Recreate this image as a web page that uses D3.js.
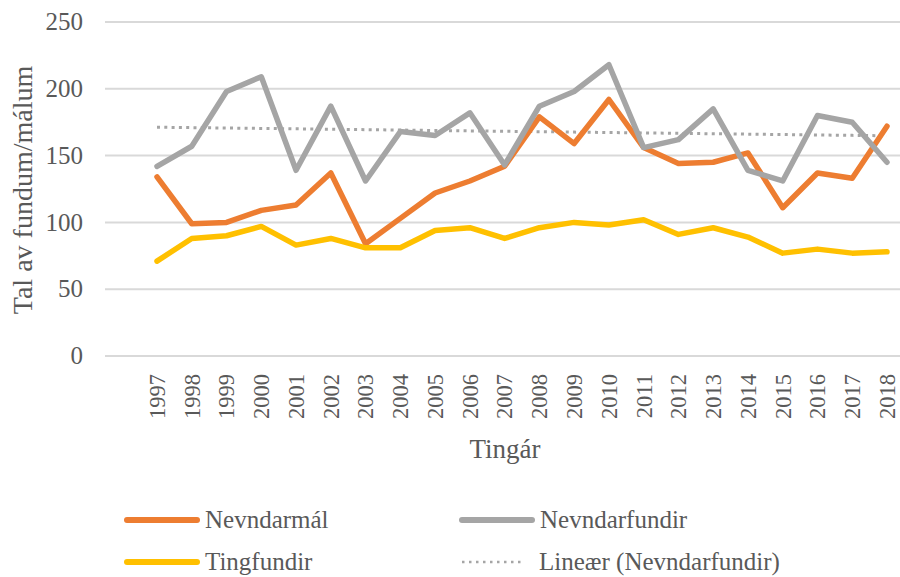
<!DOCTYPE html>
<html>
<head>
<meta charset="utf-8">
<script src="https://cdn.jsdelivr.net/npm/d3@7"></script>
<style>
    body { margin: 0; background: #fff; }
    svg { display: block; }
    text { font-family: 'Liberation Serif', serif; fill: #595959; }
</style>
</head>
<body>
<div id="chart"></div>
<script>
// data
const years = ['1997','1998','1999','2000','2001','2002','2003','2004','2005','2006','2007',
    '2008','2009','2010','2011','2012','2013','2014','2015','2016','2017','2018'];
const nevndarmal = [134,99,100,109,113,137,84,103,122,131,142,179,159,192,156,144,145,152,111,137,133,172];
const nevndarfundir = [142,157,198,209,139,187,131,168,165,182,143,187,198,218,156,162,185,139,131,180,175,145];
const tingfundir = [71,88,90,97,83,88,81,81,94,96,88,96,100,98,102,91,96,89,77,80,77,78];
const yTicks = [0,50,100,150,200,250];

const series = [
    {name: 'Nevndarmál', values: nevndarmal, color: '#ED7D31'},
    {name: 'Nevndarfundir', values: nevndarfundir, color: '#A5A5A5'},
    {name: 'Tingfundir', values: tingfundir, color: '#FFC000'}
];

const w = 900;
const h = 577;

const svg = d3.select('#chart')
    .append('svg')
    .attr('width', w)
    .attr('height', h);

// scales
const x = d3.scalePoint()
    .domain(years)
    .range([157, 887]);

const y = d3.scaleLinear()
    .domain([0, 250])
    .range([356, 22]);

// gridlines
svg.append('g')
    .selectAll('line')
    .data(yTicks)
    .enter()
    .append('line')
    .attr('x1', 105)
    .attr('x2', w)
    .attr('y1', d => y(d))
    .attr('y2', d => y(d))
    .attr('stroke', '#D9D9D9')
    .attr('stroke-width', 2);

// y tick labels
svg.append('g')
    .selectAll('text')
    .data(yTicks)
    .enter()
    .append('text')
    .attr('x', 83)
    .attr('y', d => y(d))
    .attr('dy', '0.33em')
    .attr('text-anchor', 'end')
    .style('font-size', '25px')
    .text(d => d);

// x tick labels (rotated)
svg.append('g')
    .selectAll('text')
    .data(years)
    .enter()
    .append('text')
    .attr('transform', d => `translate(${x(d)},374) rotate(-90)`)
    .attr('text-anchor', 'end')
    .attr('dy', '0.35em')
    .style('font-size', '22.5px')
    .text(d => d);

// axis titles
svg.append('text')
    .attr('transform', 'translate(22,190) rotate(-90)')
    .attr('text-anchor', 'middle')
    .attr('dy', '0.35em')
    .style('font-size', '28px')
    .text('Tal av fundum/málum');

svg.append('text')
    .attr('x', 505)
    .attr('y', 458)
    .attr('text-anchor', 'middle')
    .style('font-size', '27px')
    .text('Tingár');

// linear trend of Nevndarfundir
const idx = years.map((d, i) => i + 1);
const mx = d3.mean(idx);
const my = d3.mean(nevndarfundir);
const slope = d3.sum(idx, (d, i) => (d - mx) * (nevndarfundir[i] - my)) /
    d3.sum(idx, d => (d - mx) * (d - mx));
const trend = idx.map(d => my + slope * (d - mx));

const line = d3.line()
    .x((d, i) => x(years[i]))
    .y(d => y(d));

svg.append('path')
    .datum(trend)
    .attr('d', line)
    .attr('fill', 'none')
    .attr('stroke', '#A5A5A5')
    .attr('stroke-width', 3)
    .attr('stroke-dasharray', '3 4.3');

svg.append('g')
    .selectAll('path')
    .data(series)
    .enter()
    .append('path')
    .attr('d', d => line(d.values))
    .attr('fill', 'none')
    .attr('stroke', d => d.color)
    .attr('stroke-width', 5.5)
    .attr('stroke-linejoin', 'round')
    .attr('stroke-linecap', 'round');

// legend
const legendItems = [
    {name: 'Nevndarmál', color: '#ED7D31', dotted: false, x: 127, y: 520},
    {name: 'Nevndarfundir', color: '#A5A5A5', dotted: false, x: 462, y: 520},
    {name: 'Tingfundir', color: '#FFC000', dotted: false, x: 127, y: 562},
    {name: 'Lineær (Nevndarfundir)', color: '#A5A5A5', dotted: true, x: 462, y: 562}
];

const legend = svg.append('g')
    .selectAll('g')
    .data(legendItems)
    .enter()
    .append('g')
    .attr('transform', d => `translate(${d.x},${d.y})`);

legend.append('line')
    .attr('x1', 0)
    .attr('x2', d => d.dotted ? 63 : 70)
    .attr('stroke', d => d.color)
    .attr('stroke-width', d => d.dotted ? 2.5 : 6)
    .attr('stroke-linecap', d => d.dotted ? 'butt' : 'round')
    .attr('stroke-dasharray', d => d.dotted ? '2.5 4.5' : null);

legend.append('text')
    .attr('x', d => d.dotted ? 77 : 78)
    .attr('dy', '0.33em')
    .style('font-size', '25px')
    .text(d => d.name);
</script>
</body>
</html>
